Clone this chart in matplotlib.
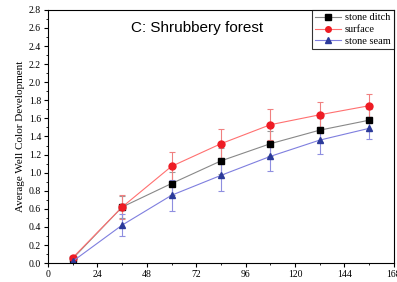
import matplotlib
matplotlib.use("Agg")
import matplotlib.pyplot as plt
from matplotlib.ticker import MultipleLocator

days = [12, 36, 60, 84, 108, 132, 156]
ditch = [0.05, 0.62, 0.88, 1.13, 1.32, 1.47, 1.58]
ditch_err = [0.02, 0.12, 0.13, 0.14, 0.14, 0.13, 0.12]
surface = [0.06, 0.62, 1.07, 1.32, 1.53, 1.64, 1.74]
surface_err = [0.02, 0.13, 0.16, 0.16, 0.17, 0.14, 0.13]
seam = [0.02, 0.42, 0.75, 0.97, 1.18, 1.36, 1.49]
seam_err = [0.02, 0.12, 0.17, 0.17, 0.16, 0.15, 0.12]

plt.rcParams['font.family'] = ['Liberation Serif', 'DejaVu Serif']

fig = plt.figure(figsize=(3.97, 2.82), dpi=100)
ax = fig.add_axes([0.121, 0.067, 0.871, 0.898])

series = [
    (ditch, ditch_err, 'stone ditch', '#888888', 'black', 's', '#999999'),
    (surface, surface_err, 'surface', '#ff7070', '#ee1c24', 'o', '#f08080'),
    (seam, seam_err, 'stone seam', '#7f7fdf', '#2b3a9a', '^', '#8f8fe0'),
]
handles = []
for vals, err, lab, lc, mc, mk, ec in series:
    cont = ax.errorbar(days, vals, yerr=err, color=lc, lw=0.8, marker=mk, ms=5,
                       mfc=mc, mec=mc, ecolor=ec, elinewidth=0.8, capsize=2.5,
                       capthick=0.8, label=lab)
    handles.append(cont[0])

ax.set_xlim(0, 168)
ax.set_ylim(0, 2.8)
ax.xaxis.set_major_locator(MultipleLocator(24))
ax.xaxis.set_minor_locator(MultipleLocator(12))
ax.yaxis.set_major_locator(MultipleLocator(0.2))
ax.yaxis.set_minor_locator(MultipleLocator(0.1))
ax.yaxis.set_major_formatter(matplotlib.ticker.FormatStrFormatter('%.1f'))
ax.tick_params(which='major', direction='out', length=3, width=0.8, labelsize=7, pad=2)
ax.tick_params(which='minor', direction='out', length=1.5, width=0.6)
ax.set_ylabel('Average Well Color Development', fontsize=8, labelpad=3)

ax.text(0.24, 0.93, 'C: Shrubbery forest', transform=ax.transAxes,
        fontsize=11, family=['Liberation Sans', 'DejaVu Sans'], va='center')

leg = ax.legend(handles, [s[2] for s in series], loc='upper right', fontsize=7.5,
                frameon=True, fancybox=False, edgecolor='black', borderaxespad=0.0,
                handlelength=2.5, borderpad=0.3, labelspacing=0.25,
                handletextpad=0.4, markerscale=0.8)
leg.get_frame().set_linewidth(0.8)

fig.savefig('out.png', dpi=100)
